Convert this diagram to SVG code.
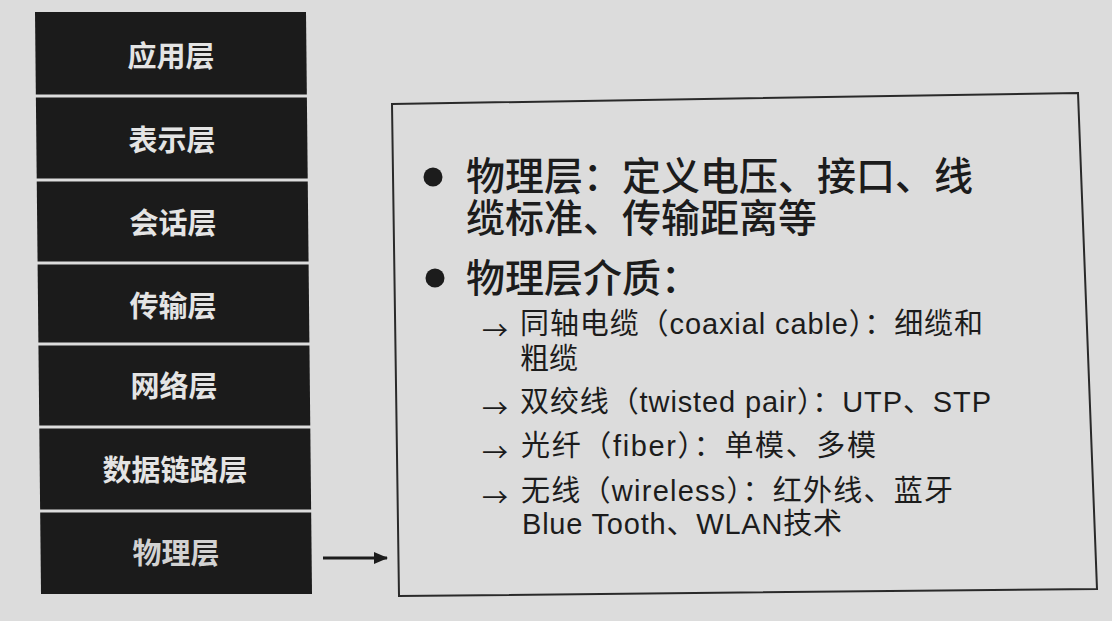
<svg xmlns="http://www.w3.org/2000/svg" width="1112" height="621" viewBox="0 0 1112 621">
<style>
.layer{fill:#1b1b1b}
.lt{font-family:"Noto Sans CJK SC","Liberation Sans",sans-serif;font-size:29px;font-weight:bold;fill:#e4e4e4;text-anchor:middle}
.main{font-family:"Liberation Sans","Noto Sans CJK SC",sans-serif;font-size:39px;font-weight:500;fill:#1c1c1c}
.sub{font-family:"Liberation Sans","Noto Sans CJK SC",sans-serif;font-size:29px;fill:#1c1c1c}
.arr{font-family:"Noto Sans CJK SC",sans-serif;font-size:26px;fill:#1c1c1c}
</style>
<defs>
<marker id="ah" markerUnits="userSpaceOnUse" markerWidth="14" markerHeight="12" refX="13" refY="6" orient="auto">
<path d="M0,0 L14,6 L0,12 Z" fill="#1c1c1c"/>
</marker>
</defs>
<rect x="0" y="0" width="1112" height="621" fill="#dcdcdc"/>
<g id="stack">
<g id="layer-app"><polygon class="layer" points="35,12 306,12 306.85,94.5 35.85,94.5"/><text class="lt" x="171" y="67">应用层</text></g>
<g id="layer-pres"><polygon class="layer" points="35.88,97.5 306.88,97.5 307.71,178.5 36.71,178.5"/><text class="lt" x="172" y="151">表示层</text></g>
<g id="layer-sess"><polygon class="layer" points="36.75,181.5 307.75,181.5 308.57,261.5 37.57,261.5"/><text class="lt" x="173" y="234">会话层</text></g>
<g id="layer-trans"><polygon class="layer" points="37.6,264.5 308.6,264.5 309.4,342.5 38.4,342.5"/><text class="lt" x="173" y="317">传输层</text></g>
<g id="layer-net"><polygon class="layer" points="38.44,345.5 309.44,345.5 310.26,425.5 39.26,425.5"/><text class="lt" x="174" y="397">网络层</text></g>
<g id="layer-link"><polygon class="layer" points="39.29,428.5 310.29,428.5 311.12,509.5 40.12,509.5"/><text class="lt" x="175" y="481">数据链路层</text></g>
<g id="layer-phys"><polygon class="layer" points="40.16,512.5 311.16,512.5 312,594 41,594"/><text class="lt" x="176" y="564" style="fill:#d2d2d2">物理层</text></g>
</g>
<g id="connectors">
<line x1="323" y1="558" x2="387" y2="558" stroke="#1c1c1c" stroke-width="3" marker-end="url(#ah)"/>
</g>
<g id="detail">
<polygon points="392,104 1078,93 1097,589 399,596" fill="none" stroke="#2a2a2a" stroke-width="2"/>
<circle cx="433" cy="177" r="9.5" fill="#1c1c1c"/>
<circle cx="435" cy="278" r="9.5" fill="#1c1c1c"/>
<text class="main" x="466" y="190">物理层：定义电压、接口、线</text>
<text class="main" x="466" y="232">缆标准、传输距离等</text>
<text class="main" x="466" y="292">物理层介质：</text>
<text class="arr" x="482" y="340">→</text>
<text class="sub" x="520" y="334" textLength="463" lengthAdjust="spacing">同轴电缆（coaxial cable）：细缆和</text>
<text class="sub" x="520" y="369">粗缆</text>
<text class="arr" x="482" y="418">→</text>
<text class="sub" x="520" y="412" textLength="471" lengthAdjust="spacing">双绞线（twisted pair）：UTP、STP</text>
<text class="arr" x="482" y="462">→</text>
<text class="sub" x="521" y="456" textLength="355" lengthAdjust="spacing">光纤（fiber）：单模、多模</text>
<text class="arr" x="482" y="507">→</text>
<text class="sub" x="521" y="501" textLength="432" lengthAdjust="spacing">无线（wireless）：红外线、蓝牙</text>
<text class="sub" x="522" y="534" textLength="320" lengthAdjust="spacing">Blue Tooth、WLAN技术</text>
</g>
</svg>
